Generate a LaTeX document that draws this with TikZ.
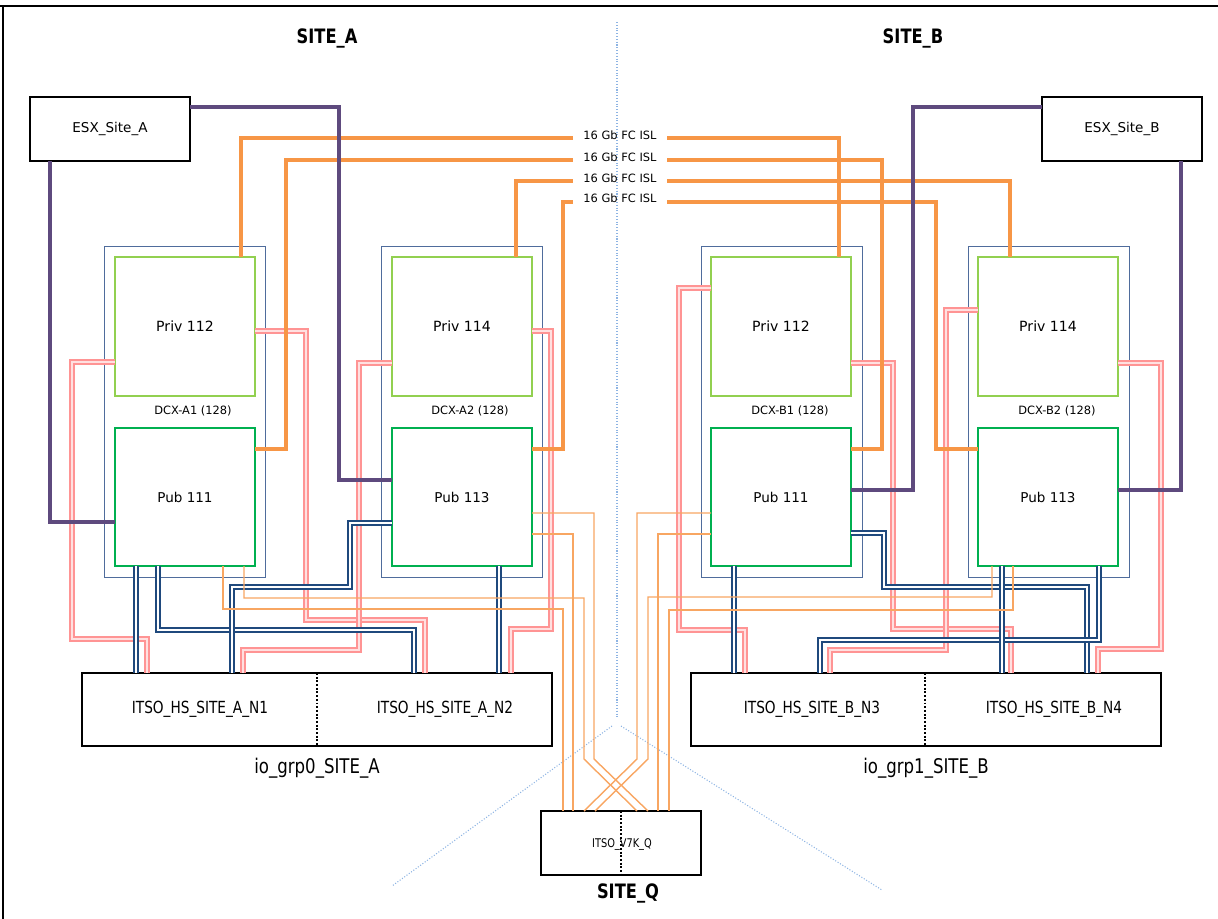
\documentclass[tikz,border=0pt]{standalone}
\usepackage{fontspec}
\setmainfont{DejaVu Sans}
\newfontfamily\narrowfont[FakeStretch=0.82]{DejaVu Sans}
\usepackage{tikz}
\usetikzlibrary{positioning}

\definecolor{esxpurple}{HTML}{5E4A7E}
\definecolor{islorange}{HTML}{F79646}
\definecolor{sanblue}{HTML}{1F497D}
\definecolor{privpink}{HTML}{FF9494}
\definecolor{privpinklight}{HTML}{FFE0E0}
\definecolor{dcxframe}{HTML}{4F6C9C}
\definecolor{privgreen}{HTML}{92D050}
\definecolor{pubgreen}{HTML}{00B050}
\definecolor{sitesplit}{HTML}{8EB4E3}

\newcommand{\pxu}{0.02cm}

\begin{document}
\begin{tikzpicture}[x=0.02cm, y=-0.02cm,
  every node/.style={inner sep=0pt, outer sep=0pt},
  hostbox/.style={draw=black, line width=0.6pt, minimum width=160*\pxu, minimum height=64*\pxu, anchor=north west, font=\fontsize{7.7}{9}\selectfont},
  dcxbox/.style={draw=dcxframe, line width=0.55pt, minimum width=161*\pxu, minimum height=331*\pxu, anchor=north west},
  privbox/.style={draw=privgreen, line width=0.6pt, minimum width=140*\pxu, minimum height=139*\pxu, anchor=north west, font=\fontsize{8}{9}\selectfont},
  pubbox/.style={privbox, draw=pubgreen, minimum height=138*\pxu, font=\fontsize{7.7}{9}\selectfont},
  grpbox/.style={draw=black, line width=0.7pt, minimum width=470*\pxu, minimum height=73*\pxu, anchor=north west},
  quorumbox/.style={draw=black, line width=0.7pt, minimum width=160*\pxu, minimum height=64*\pxu, anchor=north west},
  dcxlabel/.style={font=\fontsize{6.5}{8}\selectfont},
  isllabel/.style={font=\fontsize{6.5}{8}\selectfont, inner xsep=6pt},
  canister/.style={font=\narrowfont\fontsize{9.5}{11}\selectfont},
  grplabel/.style={font=\narrowfont\fontsize{11.5}{13}\selectfont},
  sitetitle/.style={font=\narrowfont\bfseries\fontsize{11.3}{13}\selectfont},
  divider/.style={draw=black, line width=1.1pt, densely dotted},
  sitesplitline/.style={draw=sitesplit, line width=0.6pt, densely dotted},
  esxlink/.style={draw=esxpurple, line width=2.7pt},
  isl/.style={draw=islorange, line width=2.2pt},
  qlink/.style={draw=islorange!85, line width=0.8pt},
  san/.style={draw=sanblue, line width=0.9pt, double=white, double distance=1.2pt},
  privlink/.style={draw=privpink, line width=0.9pt, double=privpinklight, double distance=1.1pt}]
  \useasboundingbox (0,0) rectangle (1218,919);
  % frame and site split
  \draw[line width=0.8pt] (0,6) -- (1218,6);
  \draw[line width=0.8pt] (3,6) -- (3,919);
  \draw[sitesplitline] (617,22) -- (617,717);
  \draw[sitesplitline] (612,726) -- (392,886);
  \draw[sitesplitline] (621,726) -- (882,890);
  \node[sitetitle] (titleA) at (327,38) {SITE\_A};
  \node[sitetitle] (titleB) at (913,38) {SITE\_B};
  \node[sitetitle] (titleQ) at (628,893) {SITE\_Q};

  % hosts
  \node[hostbox] (esxA) at (30,97) {ESX\_Site\_A};
  \node[hostbox] (esxB) at (1042,97) {ESX\_Site\_B};

  % switches
  \node[dcxbox] (dcxA1) at (104,246) {};
  \node[privbox] (privA1) at (115,257) {Priv 112};
  \node[pubbox] (pubA1) at (115,428) {Pub 111};
  \node[dcxlabel] at (193,411) {DCX-A1 (128)};
  \node[dcxbox] (dcxA2) at (381,246) {};
  \node[privbox] (privA2) at (392,257) {Priv 114};
  \node[pubbox] (pubA2) at (392,428) {Pub 113};
  \node[dcxlabel] at (470,411) {DCX-A2 (128)};
  \node[dcxbox] (dcxB1) at (701,246) {};
  \node[privbox] (privB1) at (711,257) {Priv 112};
  \node[pubbox] (pubB1) at (711,428) {Pub 111};
  \node[dcxlabel] at (790,411) {DCX-B1 (128)};
  \node[dcxbox] (dcxB2) at (968,246) {};
  \node[privbox] (privB2) at (978,257) {Priv 114};
  \node[pubbox] (pubB2) at (978,428) {Pub 113};
  \node[dcxlabel] at (1057,411) {DCX-B2 (128)};

  % io groups and quorum
  \node[grpbox] (grpA) at (82,673) {};
  \draw[divider] (grpA.north -| 317,0) -- (grpA.south -| 317,0);
  \node[canister] (nodeA1) at (200,709) {ITSO\_HS\_SITE\_A\_N1};
  \node[canister] (nodeA2) at (445,709) {ITSO\_HS\_SITE\_A\_N2};
  \node[grplabel, below=7pt of grpA] {io\_grp0\_SITE\_A};
  \node[grpbox] (grpB) at (691,673) {};
  \draw[divider] (grpB.north -| 925,0) -- (grpB.south -| 925,0);
  \node[canister] (nodeB3) at (812,709) {ITSO\_HS\_SITE\_B\_N3};
  \node[canister] (nodeB4) at (1054,709) {ITSO\_HS\_SITE\_B\_N4};
  \node[grplabel, below=7pt of grpB] {io\_grp1\_SITE\_B};
  \node[quorumbox] (quorum) at (541,811) {};
  \draw[divider] (quorum.north -| 621,0) -- (quorum.south -| 621,0);
  \node[canister, font=\narrowfont\fontsize{6.8}{8}\selectfont] (v7k) at (622,844) {ITSO\_V7K\_Q};

  % ISL labels
  \node[isllabel] (isl1) at (620,135) {16 Gb FC ISL};
  \node[isllabel] (isl2) at (620,157) {16 Gb FC ISL};
  \node[isllabel] (isl3) at (620,178) {16 Gb FC ISL};
  \node[isllabel] (isl4) at (620,198) {16 Gb FC ISL};

  % private fabric
  \draw[privlink] (privA1.west |- 0,362) -| (72,639) -| (grpA.north -| 147,0);
  \draw[privlink] (privA1.east |- 0,331) -| (306,620) -| (grpA.north -| 425,0);
  \draw[privlink] (privA2.west |- 0,363) -| (359,650) -| (grpA.north -| 243,0);
  \draw[privlink] (privA2.east |- 0,331) -| (551,629) -| (grpA.north -| 511,0);
  \draw[privlink] (privB1.west |- 0,288) -| (679,630) -| (grpB.north -| 745,0);
  \draw[privlink] (privB1.east |- 0,363) -| (893,629) -| (grpB.north -| 1011,0);
  \draw[privlink] (privB2.west |- 0,310) -| (946,650) -| (grpB.north -| 830,0);
  \draw[privlink] (privB2.east |- 0,363) -| (1161,649) -| (grpB.north -| 1098,0);

  % public fabric
  \draw[san] (pubA1.south -| 136,0) -- (grpA.north -| 136,0);
  \draw[san] (pubA1.south -| 158,0) |- (414,630) -- (grpA.north -| 414,0);
  \draw[san] (pubA2.west |- 0,523) -| (350,587) -| (grpA.north -| 232,0);
  \draw[san] (pubA2.south -| 499,0) -- (grpA.north -| 499,0);
  \draw[san] (pubB1.south -| 734,0) -- (grpB.north -| 734,0);
  \draw[san] (pubB1.east |- 0,533) -| (884,587) -| (grpB.north -| 1087,0);
  \draw[san] (pubB2.south -| 1099,0) |- (820,640) -- (grpB.north -| 820,0);
  \draw[san] (pubB2.south -| 1002,0) -- (grpB.north -| 1002,0);

  % quorum links
  \draw[qlink] (pubA2.east |- 0,513) -| (594,759) -- (quorum.north -| 648,0);
  \draw[qlink] (pubA2.east |- 0,534) -| (quorum.north -| 573,0);
  \draw[qlink] (pubA1.south -| 244,0) |- (584,598) -- (584,759) -- (quorum.north -| 637,0);
  \draw[qlink] (pubA1.south -| 223,0) |- (563,609) -- (quorum.north -| 563,0);
  \draw[qlink] (pubB1.west |- 0,513) -| (637,759) -- (quorum.north -| 584,0);
  \draw[qlink] (pubB1.west |- 0,534) -| (quorum.north -| 658,0);
  \draw[qlink] (pubB2.south -| 992,0) |- (648,597) -- (648,759) -- (quorum.north -| 595,0);
  \draw[qlink] (pubB2.south -| 1013,0) |- (669,610) -- (quorum.north -| 669,0);

  % ISLs
  \draw[isl] (isl1.west |- 0,138) -| (privA1.north -| 241,0);
  \draw[isl] (isl2.west |- 0,160) -| (286,449) -- (pubA1.east |- 0,449);
  \draw[isl] (isl3.west |- 0,181) -| (privA2.north -| 516,0);
  \draw[isl] (isl4.west |- 0,202) -| (563,449) -- (pubA2.east |- 0,449);
  \draw[isl] (isl1.east |- 0,138) -| (privB1.north -| 839,0);
  \draw[isl] (isl2.east |- 0,160) -| (882,449) -- (pubB1.east |- 0,449);
  \draw[isl] (isl3.east |- 0,181) -| (privB2.north -| 1010,0);
  \draw[isl] (isl4.east |- 0,202) -| (936,449) -- (pubB2.west |- 0,449);

  % host links
  \draw[esxlink] (esxA.east |- 0,107) -| (339,480) -- (pubA2.west |- 0,480);
  \draw[esxlink] (esxA.south -| 50,0) |- (pubA1.west |- 0,522);
  \draw[esxlink] (esxB.west |- 0,107) -| (913,490) -- (pubB1.east |- 0,490);
  \draw[esxlink] (esxB.south -| 1181,0) |- (pubB2.east |- 0,490);
\end{tikzpicture}
\end{document}
